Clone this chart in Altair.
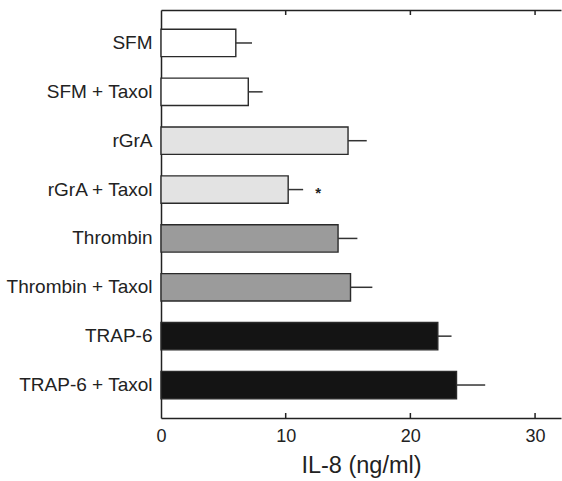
import altair as alt
import pandas as pd

labels = ["SFM", "SFM + Taxol", "rGrA", "rGrA + Taxol", "Thrombin",
          "Thrombin + Taxol", "TRAP-6", "TRAP-6 + Taxol"]
means = [6.0, 7.0, 15.0, 10.2, 14.2, 15.2, 22.2, 23.7]
errors = [1.3, 1.15, 1.5, 1.2, 1.55, 1.75, 1.1, 2.3]
fills = ["#ffffff", "#ffffff", "#e3e3e3", "#e3e3e3", "#9b9b9b", "#9b9b9b",
         "#141414", "#141414"]
tick_values = [10, 20, 30]
star_label = ["rGrA + Taxol"]
star_x = [12.6]

df = pd.DataFrame({"label": labels, "mean": means, "err": errors, "fill": fills})
df["hi"] = df["mean"] + df["err"]
ticks = pd.DataFrame({"t": tick_values})
stars = pd.DataFrame({"label": star_label, "x": star_x, "s": ["*"]})

FONT = "Liberation Sans"
W, H = 400, 408
xscale = alt.Scale(domain=[0, 32.08], nice=False, zero=False)
yscale = alt.Scale(domain=labels, paddingInner=0.44, paddingOuter=0.395)
yaxis = alt.Axis(ticks=False, grid=False, title=None,
                 domainColor="#222222", domainWidth=1.5,
                 labelFont=FONT, labelFontSize=19, labelColor="#222222",
                 labelPadding=9)

bars = alt.Chart(df).mark_bar(stroke="#2a2a2a", strokeWidth=1.4).encode(
    x=alt.X("mean:Q", scale=xscale,
            axis=alt.Axis(orient="bottom", values=[0, 10, 20, 30], ticks=False,
                          grid=False, domainColor="#222222", domainWidth=1.5,
                          labelFont=FONT, labelFontSize=18, labelColor="#222222",
                          labelPadding=9, labelFlush=False,
                          title="IL-8 (ng/ml)", titleFont=FONT, titleFontSize=23.5,
                          titleFontWeight="normal", titleColor="#222222",
                          titlePadding=8)),
    y=alt.Y("label:N", scale=yscale, sort=labels, axis=yaxis),
    fill=alt.Fill("fill:N", scale=None),
)

errbars = alt.Chart(df).mark_rule(color="#333333", strokeWidth=1.5).encode(
    x=alt.X("mean:Q", scale=xscale, axis=None),
    x2="hi:Q",
    y=alt.Y("label:N", scale=yscale, sort=labels, bandPosition=0.5, axis=yaxis),
)

top_axis = alt.Chart(ticks).mark_rule(color="#222222", strokeWidth=1.5).encode(
    x=alt.X("t:Q", scale=xscale,
            axis=alt.Axis(orient="top", labels=False, ticks=False, grid=False,
                          title=None, domainColor="#222222", domainWidth=1.5,
                          values=tick_values)),
    y=alt.value(0), y2=alt.value(5),
)
bottom_ticks = alt.Chart(ticks).mark_rule(color="#222222", strokeWidth=1.5).encode(
    x=alt.X("t:Q", scale=xscale, axis=None),
    y=alt.value(H), y2=alt.value(H - 5),
)

star = alt.Chart(stars).mark_text(font=FONT, fontSize=15, fontWeight="bold",
                                  color="#222222", baseline="middle", dy=3).encode(
    x=alt.X("x:Q", scale=xscale, axis=None),
    y=alt.Y("label:N", scale=yscale, sort=labels, bandPosition=0.5, axis=yaxis),
    text="s:N",
)

chart = alt.layer(bars, errbars, top_axis, bottom_ticks, star).resolve_axis(
    x="independent"
).properties(
    width=W, height=H,
    autosize=alt.AutoSizeParams(type="none"),
    padding={"left": 161, "top": 10, "right": 1, "bottom": 63},
    background="white",
).configure_view(stroke=None)

chart.save("out.html", embed_options={"renderer": "svg", "actions": False})
